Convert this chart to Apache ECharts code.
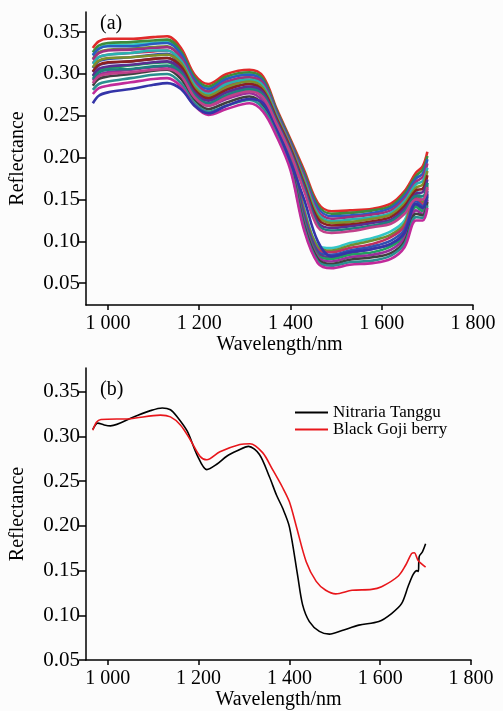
<!DOCTYPE html>
<html><head><meta charset="utf-8">
<script src="https://cdn.jsdelivr.net/npm/echarts@6/dist/echarts.min.js"></script>
<style>html,body{margin:0;padding:0;background:#fff}#c{width:503px;height:711px}</style>
</head><body><div id="c"></div>
<script>
// ---------- data ----------
const topWavelengths = [967, 980, 1000, 1050, 1100, 1130, 1160, 1190, 1220, 1260, 1310, 1340, 1370, 1400, 1430, 1460, 1490, 1530, 1580, 1620, 1650, 1675, 1690, 1700];
const upperGroupCurves = [
  [0.331, 0.339, 0.342, 0.342, 0.344, 0.345, 0.331, 0.299, 0.288, 0.300, 0.305, 0.297, 0.258, 0.222, 0.185, 0.146, 0.136, 0.137, 0.139, 0.145, 0.160, 0.182, 0.190, 0.207],
  [0.326, 0.334, 0.337, 0.338, 0.340, 0.341, 0.327, 0.296, 0.285, 0.297, 0.302, 0.294, 0.256, 0.220, 0.182, 0.143, 0.133, 0.134, 0.137, 0.142, 0.157, 0.178, 0.186, 0.202],
  [0.322, 0.330, 0.333, 0.333, 0.336, 0.337, 0.324, 0.293, 0.282, 0.294, 0.299, 0.291, 0.254, 0.218, 0.179, 0.140, 0.130, 0.131, 0.134, 0.140, 0.154, 0.175, 0.181, 0.198],
  [0.317, 0.325, 0.328, 0.329, 0.331, 0.332, 0.320, 0.290, 0.279, 0.291, 0.296, 0.289, 0.252, 0.216, 0.177, 0.136, 0.127, 0.129, 0.132, 0.137, 0.151, 0.171, 0.177, 0.193],
  [0.312, 0.320, 0.323, 0.325, 0.328, 0.328, 0.316, 0.287, 0.276, 0.288, 0.293, 0.286, 0.250, 0.214, 0.174, 0.133, 0.124, 0.126, 0.129, 0.134, 0.148, 0.168, 0.172, 0.188],
  [0.308, 0.316, 0.319, 0.320, 0.322, 0.323, 0.313, 0.284, 0.274, 0.284, 0.291, 0.283, 0.248, 0.213, 0.171, 0.130, 0.122, 0.123, 0.127, 0.132, 0.145, 0.164, 0.168, 0.184],
  [0.303, 0.311, 0.314, 0.315, 0.318, 0.319, 0.309, 0.281, 0.271, 0.281, 0.288, 0.280, 0.246, 0.211, 0.168, 0.127, 0.119, 0.120, 0.124, 0.129, 0.142, 0.161, 0.163, 0.179],
  [0.298, 0.306, 0.309, 0.311, 0.314, 0.315, 0.305, 0.278, 0.268, 0.278, 0.285, 0.278, 0.244, 0.209, 0.166, 0.123, 0.116, 0.118, 0.122, 0.126, 0.139, 0.157, 0.159, 0.174],
  [0.294, 0.302, 0.305, 0.306, 0.309, 0.310, 0.302, 0.275, 0.265, 0.275, 0.282, 0.275, 0.242, 0.207, 0.163, 0.120, 0.113, 0.115, 0.119, 0.124, 0.136, 0.154, 0.154, 0.170],
  [0.289, 0.297, 0.300, 0.302, 0.305, 0.306, 0.298, 0.272, 0.262, 0.272, 0.279, 0.272, 0.240, 0.205, 0.160, 0.117, 0.110, 0.112, 0.117, 0.121, 0.133, 0.150, 0.150, 0.165]
];
const lowerGroupCurves = [
  [0.323, 0.331, 0.334, 0.335, 0.337, 0.338, 0.324, 0.293, 0.283, 0.294, 0.300, 0.290, 0.250, 0.210, 0.140, 0.095, 0.092, 0.098, 0.104, 0.112, 0.125, 0.160, 0.150, 0.170],
  [0.318, 0.326, 0.329, 0.330, 0.332, 0.333, 0.320, 0.290, 0.279, 0.290, 0.296, 0.286, 0.247, 0.207, 0.137, 0.093, 0.089, 0.095, 0.101, 0.108, 0.121, 0.156, 0.147, 0.167],
  [0.313, 0.320, 0.323, 0.325, 0.327, 0.328, 0.315, 0.286, 0.276, 0.286, 0.292, 0.282, 0.244, 0.204, 0.134, 0.090, 0.087, 0.092, 0.097, 0.105, 0.118, 0.152, 0.144, 0.163],
  [0.307, 0.315, 0.318, 0.320, 0.323, 0.324, 0.311, 0.283, 0.272, 0.282, 0.288, 0.278, 0.242, 0.202, 0.131, 0.088, 0.084, 0.089, 0.094, 0.101, 0.114, 0.148, 0.142, 0.160],
  [0.302, 0.310, 0.313, 0.315, 0.318, 0.319, 0.307, 0.279, 0.269, 0.278, 0.284, 0.274, 0.239, 0.199, 0.128, 0.086, 0.081, 0.086, 0.091, 0.097, 0.111, 0.144, 0.139, 0.157],
  [0.297, 0.304, 0.307, 0.310, 0.313, 0.314, 0.302, 0.276, 0.265, 0.274, 0.281, 0.271, 0.236, 0.196, 0.125, 0.083, 0.079, 0.084, 0.087, 0.094, 0.107, 0.141, 0.136, 0.153],
  [0.292, 0.299, 0.302, 0.305, 0.308, 0.309, 0.298, 0.272, 0.262, 0.270, 0.277, 0.267, 0.233, 0.193, 0.122, 0.081, 0.076, 0.081, 0.084, 0.090, 0.104, 0.137, 0.133, 0.150],
  [0.286, 0.294, 0.297, 0.300, 0.304, 0.305, 0.294, 0.269, 0.258, 0.266, 0.273, 0.263, 0.231, 0.191, 0.119, 0.079, 0.073, 0.078, 0.081, 0.086, 0.100, 0.133, 0.131, 0.147],
  [0.281, 0.288, 0.291, 0.295, 0.299, 0.300, 0.289, 0.265, 0.255, 0.262, 0.269, 0.259, 0.228, 0.188, 0.116, 0.076, 0.071, 0.075, 0.077, 0.083, 0.097, 0.129, 0.128, 0.143],
  [0.276, 0.283, 0.286, 0.290, 0.294, 0.295, 0.285, 0.262, 0.251, 0.258, 0.265, 0.255, 0.225, 0.185, 0.113, 0.074, 0.068, 0.072, 0.074, 0.079, 0.093, 0.125, 0.125, 0.140]
];
const outlierCurve = [0.265, 0.274, 0.278, 0.282, 0.287, 0.289, 0.282, 0.262, 0.253, 0.262, 0.270, 0.265, 0.235, 0.195, 0.150, 0.100, 0.082, 0.087, 0.091, 0.097, 0.110, 0.145, 0.140, 0.155];

const ntWavelengths = [967, 978, 992, 1006, 1057, 1094, 1120, 1138, 1153, 1175, 1197, 1218, 1240, 1262, 1285, 1310, 1334, 1356, 1372, 1385, 1400, 1418, 1429, 1444, 1466, 1488, 1516, 1553, 1597, 1625, 1647, 1662, 1673, 1681, 1684, 1686, 1693, 1700];
const ntValues = [0.308, 0.315, 0.313, 0.312, 0.322, 0.329, 0.332, 0.330, 0.322, 0.306, 0.279, 0.263, 0.269, 0.278, 0.284, 0.289, 0.280, 0.255, 0.234, 0.220, 0.199, 0.145, 0.112, 0.093, 0.082, 0.079, 0.083, 0.089, 0.093, 0.102, 0.113, 0.133, 0.146, 0.150, 0.149, 0.166, 0.171, 0.180];
const bgbWavelengths = [967, 975, 985, 1050, 1116, 1138, 1160, 1181, 1203, 1218, 1247, 1291, 1313, 1341, 1363, 1385, 1400, 1415, 1437, 1459, 1480, 1502, 1538, 1581, 1603, 1640, 1656, 1669, 1675, 1684, 1700];
const bgbValues = [0.307, 0.316, 0.319, 0.320, 0.324, 0.322, 0.313, 0.297, 0.278, 0.274, 0.283, 0.291, 0.292, 0.282, 0.263, 0.243, 0.227, 0.200, 0.160, 0.138, 0.128, 0.124, 0.128, 0.129, 0.132, 0.144, 0.156, 0.169, 0.170, 0.161, 0.154];

const yTicks = [0.05, 0.10, 0.15, 0.20, 0.25, 0.30, 0.35];
const xTicks = [1000, 1200, 1400, 1600, 1800];
const xTickLabels = ['1 000', '1 200', '1 400', '1 600', '1 800'];
const seriesNames = ['Nitraria Tanggu', 'Black Goji berry'];

// ---------- styles ----------
const upperColors = ['#e02a2a', '#3c8d3c', '#2a5cbf', '#a0307f', '#2ab0b0', '#7f8f2a', '#8b2020', '#5a2d91', '#1f7f7f', '#c0408a'];
const lowerColors = ['#33c6c6', '#6f8f30', '#c03060', '#3050b0', '#5a3a8a', '#20a060', '#9a2f9a', '#404040', '#2a8f8f', '#c02a9a'];
const FONT = '"Liberation Serif", "Times New Roman", serif';

function xAxisFor(gridIndex, nameGap) {
  return {
    type: 'value', gridIndex, min: 952, max: 1800,
    axisLine: { show: true, onZero: false, lineStyle: { color: '#000', width: 1.5 } },
    axisTick: { show: true, customValues: xTicks, length: 5, lineStyle: { color: '#000', width: 1.5 } },
    axisLabel: { customValues: xTicks, formatter: v => xTickLabels[xTicks.indexOf(v)], color: '#000', fontFamily: FONT, fontSize: 20, margin: 9 },
    splitLine: { show: false },
    name: 'Wavelength/nm', nameLocation: 'middle', nameGap,
    nameTextStyle: { color: '#000', fontFamily: FONT, fontSize: 20 }
  };
}
function yAxisFor(gridIndex, min, max) {
  return {
    type: 'value', gridIndex, min, max,
    axisLine: { show: true, onZero: false, lineStyle: { color: '#000', width: 1.5 } },
    axisTick: { show: true, customValues: yTicks, length: 7, lineStyle: { color: '#000', width: 1.5 } },
    axisLabel: { customValues: yTicks, formatter: v => v.toFixed(2), color: '#000', fontFamily: FONT, fontSize: 21, margin: 6 },
    splitLine: { show: false },
    name: 'Reflectance', nameLocation: 'middle', nameGap: 58,
    nameTextStyle: { color: '#000', fontFamily: FONT, fontSize: 20 }
  };
}

const series = [];
function topLine(values, color) {
  series.push({
    type: 'line', xAxisIndex: 0, yAxisIndex: 0, silent: true,
    data: topWavelengths.map((w, i) => [w, values[i]]),
    symbol: 'none', smooth: 0.35, lineStyle: { width: 2.6, color }
  });
}
lowerGroupCurves.forEach((c, i) => topLine(c, lowerColors[i]));
topLine(outlierCurve, '#3434a8');
upperGroupCurves.forEach((c, i) => topLine(c, upperColors[i]));

series.push({
  name: seriesNames[0], type: 'line', xAxisIndex: 1, yAxisIndex: 1,
  data: ntWavelengths.map((w, i) => [w, ntValues[i]]),
  symbol: 'none', smooth: 0.3, lineStyle: { width: 1.6, color: '#000' }, itemStyle: { color: '#000' }
});
series.push({
  name: seriesNames[1], type: 'line', xAxisIndex: 1, yAxisIndex: 1,
  data: bgbWavelengths.map((w, i) => [w, bgbValues[i]]),
  symbol: 'none', smooth: 0.3, lineStyle: { width: 1.6, color: '#e8161b' }, itemStyle: { color: '#e8161b' }
});

const chart = echarts.init(document.getElementById('c'), null, { renderer: 'canvas' });
chart.setOption({
  animation: false,
  backgroundColor: '#fcfcfc',
  grid: [
    { left: 85, top: 12, width: 388, height: 293 },
    { left: 85, top: 368, width: 386, height: 294 }
  ],
  xAxis: [xAxisFor(0, 28), xAxisFor(1, 30)],
  yAxis: [yAxisFor(0, 0.024, 0.374), yAxisFor(1, 0.05, 0.3767)],
  legend: {
    data: seriesNames.map(n => ({ name: n, icon: 'rect' })), orient: 'vertical', left: 290, top: 399,
    itemWidth: 33, itemHeight: 2, itemGap: 0,
    textStyle: { color: '#000', fontFamily: FONT, fontSize: 17, lineHeight: 16 }
  },
  graphic: [
    { type: 'text', left: 100, top: 14, style: { text: '(a)', font: '20px "Liberation Serif"', fill: '#000' } },
    { type: 'text', left: 100, top: 380, style: { text: '(b)', font: '20px "Liberation Serif"', fill: '#000' } }
  ],
  series
});
</script></body></html>
